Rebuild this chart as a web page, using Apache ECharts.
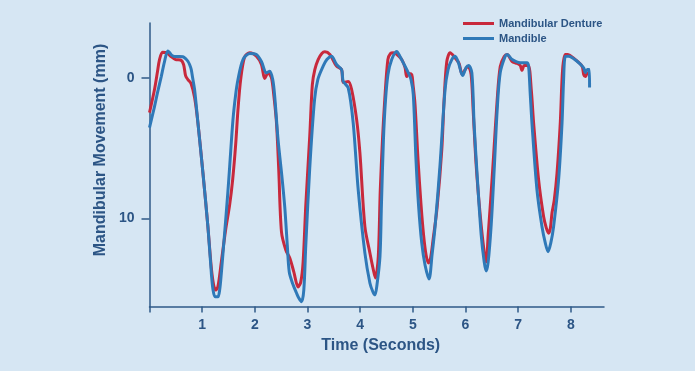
<!DOCTYPE html>
<html>
<head>
<meta charset="utf-8">
<script src="https://cdn.jsdelivr.net/npm/echarts@6/dist/echarts.min.js"></script>
<style>
html,body{margin:0;padding:0;background:#d6e6f3;}
#chart{width:695px;height:371px;}
</style>
</head>
<body>
<div id="chart"></div>
<script>
// Time (s), movement (mm)
const dentureT = [0,0.095,0.152,0.19,0.247,0.304,0.348,0.409,0.495,0.59,0.647,0.685,0.729,0.79,0.856,0.919,1.014,1.109,1.174,1.218,1.256,1.299,1.364,1.446,1.522,1.579,1.636,1.68,1.731,1.807,1.903,2.03,2.125,2.188,2.251,2.315,2.359,2.411,2.454,2.506,2.588,2.664,2.74,2.822,2.873,2.917,2.968,3.044,3.092,3.139,3.202,3.272,3.33,3.425,3.552,3.647,3.678,3.773,3.838,3.933,3.995,4.09,4.186,4.243,4.29,4.344,4.382,4.424,4.467,4.526,4.576,4.629,4.699,4.789,4.852,4.884,4.928,4.979,5.004,5.042,5.099,5.156,5.204,5.251,5.295,5.337,5.384,5.46,5.55,5.594,5.645,5.708,5.803,5.879,5.936,5.993,6.05,6.107,6.145,6.202,6.279,6.355,6.393,6.431,6.478,6.535,6.602,6.659,6.735,6.792,6.882,6.982,7.04,7.072,7.116,7.192,7.249,7.293,7.388,7.483,7.534,7.578,7.61,7.643,7.686,7.738,7.8,7.844,7.895,7.934,8.086,8.213,8.244,8.276,8.314];
const dentureV = [2.47,0.83,-0.45,-1.3,-1.82,-1.8,-1.73,-1.52,-1.3,-1.27,-0.95,-0.16,0.12,0.41,1.4,3.18,6.74,10.57,13.51,14.72,15.08,14.84,13.08,10.8,9.02,7.24,4.75,2.26,0.12,-1.5,-1.78,-1.54,-0.95,0.05,-0.36,-0.02,1.19,3.18,6.53,10.95,12.23,12.8,13.79,14.86,14.5,13.08,9.02,4.04,0.48,-0.59,-1.3,-1.73,-1.85,-1.66,-0.83,-0.59,0.33,0.26,0.83,2.97,5.32,10.57,12.46,13.51,14.22,12.71,7.96,4.39,1.55,-1.3,-1.73,-1.78,-1.66,-1.3,-0.73,-0.09,-0.31,-0.24,0.48,1.9,5.82,9.02,11.16,12.58,13.15,12.8,11.52,9.24,5.11,1.55,-1.16,-1.78,-1.42,-1.02,-0.24,-0.59,-0.8,-0.24,2.26,6.17,9.74,12.37,13.08,11.16,8.67,5.46,1.55,-0.8,-1.52,-1.66,-1.18,-1.02,-0.88,-0.52,-0.88,-0.88,0.83,3.18,7.24,9.86,10.66,11.04,10.73,9.59,8.67,6.77,3.18,-0.59,-1.66,-1.66,-1.3,-0.83,-0.24,-0.09,-0.45];
const mandibleT = [0,0.095,0.152,0.223,0.285,0.348,0.381,0.419,0.476,0.571,0.634,0.685,0.729,0.761,0.793,0.818,0.856,0.919,1.014,1.109,1.174,1.204,1.246,1.299,1.332,1.364,1.427,1.484,1.522,1.585,1.636,1.68,1.775,1.903,2.03,2.125,2.22,2.283,2.34,2.378,2.441,2.511,2.568,2.616,2.654,2.721,2.791,2.835,2.886,2.93,2.968,3.044,3.134,3.196,3.297,3.368,3.455,3.552,3.647,3.678,3.773,3.868,3.963,4.09,4.186,4.243,4.281,4.319,4.376,4.404,4.442,4.482,4.528,4.599,4.694,4.756,4.819,4.914,4.966,5.009,5.06,5.108,5.169,5.232,5.308,5.365,5.422,5.517,5.612,5.669,5.74,5.803,5.866,5.946,6.012,6.06,6.121,6.164,6.221,6.298,6.355,6.393,6.431,6.488,6.545,6.602,6.659,6.754,6.792,6.887,7.04,7.167,7.198,7.23,7.262,7.357,7.452,7.515,7.567,7.62,7.673,7.768,7.833,7.863,7.895,7.958,8.118,8.244,8.276,8.314,8.352,8.356];
const mandibleV = [3.54,2.04,1.05,-0.09,-1.16,-1.91,-1.8,-1.62,-1.52,-1.52,-1.5,-1.37,-1.18,-0.95,-0.59,-0.02,0.83,3.18,6.74,10.57,13.87,15.01,15.56,15.56,15.08,13.87,11.02,8.31,6.32,2.97,1.19,0.12,-1.3,-1.73,-1.66,-1.16,-0.36,-0.47,0.12,1.33,4.39,6.89,9.17,11.87,13.8,14.65,15.29,15.65,15.91,15.08,11.87,6.32,1.55,0.12,-0.83,-1.3,-1.54,-0.95,-0.59,0.24,0.71,3.21,7.96,12.46,14.6,15.22,15.43,14.72,12.71,9.02,4.39,1.55,-0.24,-1.3,-1.87,-1.52,-1.07,-0.36,0.12,1.19,5.82,9.02,11.73,13.3,14.3,12.58,10.59,6.17,0.83,-0.59,-1.3,-1.54,-1.07,-0.16,-0.73,-0.88,-0.36,3.33,6.89,11.16,13.08,13.73,13.08,10.45,6.53,2.26,-0.36,-1.54,-1.66,-1.3,-1.07,-1.07,-0.83,1.19,3.21,7.96,10.57,11.73,12.35,11.73,10.57,7.24,3.21,0.12,-1.52,-1.54,-1.18,-0.71,-0.36,-0.59,-0.59,0.69];
const xTicks = [0,1,2,3,4,5,6,7,8];
const xLabels = [1,2,3,4,5,6,7,8];
const yTicks = [0,10];
const seriesNames = ['Mandibular Denture','Mandible'];
const xTitle = 'Time (Seconds)';
const yTitle = 'Mandibular Movement (mm)';

const pair = (t, v) => t.map((x, i) => [x, v[i]]);
const textColor = '#2c5585';
const axisColor = '#2f5a88';
const font = 'Liberation Sans, Arial, sans-serif';
const chart = echarts.init(document.getElementById('chart'), null, {renderer:'canvas'});
chart.setOption({
  backgroundColor: '#d6e6f3',
  animation: false,
  legend: {
    orient: 'vertical',
    left: 463, top: 18, padding: 0,
    itemWidth: 31, itemHeight: 3, itemGap: 4,
    icon: 'rect',
    textStyle: {color: textColor, fontWeight: 'bold', fontSize: 11, fontFamily: font},
    data: seriesNames
  },
  graphic: [{
    type: 'text', x: 101, y: 150, rotation: Math.PI / 2,
    style: {text: yTitle, fill: textColor, font: 'bold 16px ' + font, align: 'center', verticalAlign: 'middle'}
  }],
  grid: {left: 149.5, right: 91, top: 23, bottom: 64.5, containLabel: false},
  xAxis: {
    type: 'value', min: 0, max: 8.63,
    name: xTitle, nameLocation: 'middle', nameGap: 28,
    nameTextStyle: {color: textColor, fontWeight: 'bold', fontSize: 16, fontFamily: font, padding: [0, 0, 0, 8]},
    axisLine: {show: true, onZero: false, lineStyle: {color: axisColor, width: 1.5}},
    axisTick: {show: true, length: 6, customValues: xTicks, lineStyle: {color: axisColor, width: 1.5}},
    axisLabel: {customValues: xLabels, color: textColor, fontWeight: 'bold', fontSize: 14, margin: 12, fontFamily: font},
    splitLine: {show: false}
  },
  yAxis: {
    type: 'value', inverse: true, min: -3.9, max: 16.25,
    axisLine: {show: true, onZero: false, lineStyle: {color: axisColor, width: 1.5}},
    axisTick: {show: true, length: 8, customValues: yTicks, lineStyle: {color: axisColor, width: 1.5}},
    axisLabel: {customValues: yTicks, color: textColor, fontWeight: 'bold', fontSize: 14, margin: 15, fontFamily: font},
    splitLine: {show: false}
  },
  series: [
    {name: seriesNames[0], type: 'line', data: pair(dentureT, dentureV), showSymbol: false, smooth: 0.3,
     lineStyle: {color: '#c8293c', width: 3}, itemStyle: {color: '#c8293c'}},
    {name: seriesNames[1], type: 'line', data: pair(mandibleT, mandibleV), showSymbol: false, smooth: 0.3,
     lineStyle: {color: '#2f79b8', width: 3}, itemStyle: {color: '#2f79b8'}}
  ]
});
</script>
</body>
</html>
